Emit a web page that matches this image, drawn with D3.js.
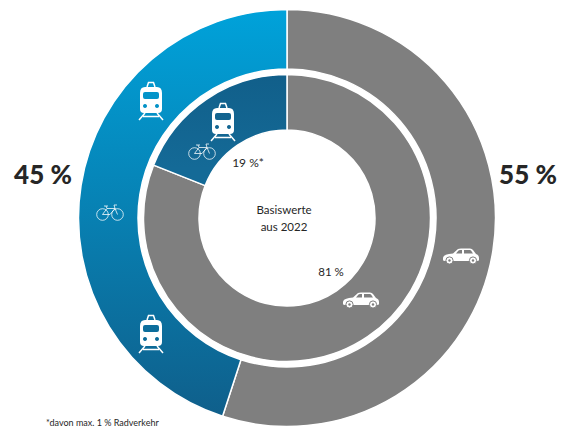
<!DOCTYPE html>
<html lang="de">

<head>
  <meta charset="UTF-8" />
  <title>Basiswerte aus 2022</title>
  <script src="https://d3js.org/d3.v7.min.js"></script>
  <style>
    body {
      margin: 0;
      background: #fff;
    }

    svg {
      display: block;
      font-family: 'Lato', sans-serif;
    }
  </style>
</head>

<body>
  <svg id="chart" width="567" height="431" xmlns="http://www.w3.org/2000/svg"></svg>

  <script>
    const categories = ["Auto", "Umweltverbund"];
    const outerValues = [55, 45];
    const innerValues = [81, 19];
    const outerLabels = ["55 %", "45 %"];
    const innerLabels = ["81 %", "19 %*"];
    const centerLabels = ["Basiswerte", "aus 2022"];
    const footnote = "*davon max. 1 % Radverkehr";

    const cx = 287;
    const cy = 218;

    const svg = d3.select("#chart");
    const defs = svg.append("defs");

    // blue parts fade towards the bottom
    function addGradient(id, y1, y2, c1, c2) {
      const g = defs.append("linearGradient")
        .attr("id", id)
        .attr("gradientUnits", "userSpaceOnUse")
        .attr("x1", 0).attr("x2", 0)
        .attr("y1", y1).attr("y2", y2);
      g.append("stop").attr("offset", "0%").attr("stop-color", c1);
      g.append("stop").attr("offset", "100%").attr("stop-color", c2);
    }
    addGradient("blue-outer", -208, 198, "#00a2da", "#0f5f8b");
    addGradient("blue-inner", -143, -50, "#115f8a", "#146a97");

    const pie = d3.pie().sort(null).value(d => d);
    const color = d3.scaleOrdinal().domain([0, 1]);

    const root = svg.append("g").attr("transform", `translate(${cx},${cy})`);

    function drawRing(values, inner, outer, blueId) {
      const arc = d3.arc().innerRadius(inner).outerRadius(outer);
      color.range(["#7f7f7f", `url(#${blueId})`]);
      root.append("g")
        .selectAll("path")
        .data(pie(values))
        .join("path")
        .attr("d", arc)
        .attr("fill", (d, i) => color(i))
        .attr("stroke", "#fff")
        .attr("stroke-width", 1.5);
    }

    drawRing(outerValues, 149, 208.5, "blue-outer");
    drawRing(innerValues, 88, 143.5, "blue-inner");

    // icons, drawn around their own centre
    function drawTrain(x, y) {
      const g = svg.append("g").attr("transform", `translate(${x},${y})`).attr("fill", "#fff");
      g.append("path")
        .attr("fill-rule", "evenodd")
        .attr("d", `M-6,-14 H6 Q11,-14 11,-8 V8 Q11,12 7,12 H-7 Q-11,12 -11,8 V-8 Q-11,-14 -6,-14 Z
          M-6,-9 Q-8,-9 -8,-7 V-4 Q-8,-2 -6,-2 H6 Q8,-2 8,-4 V-7 Q8,-9 6,-9 Z
          M-6,3 a2,2 0 1,0 0.01,0 Z M6,3 a2,2 0 1,0 0.01,0 Z`);
      g.append("path")
        .attr("fill", "none")
        .attr("stroke", "#fff")
        .attr("stroke-width", 1.5)
        .attr("d", `M-6,12 L-12,19 M6,12 L12,19 M-8,15.5 H8 M-4,-14 L-2.5,-18.5 H2.5 L4,-14`);
    }

    function drawBike(x, y) {
      const g = svg.append("g").attr("transform", `translate(${x},${y})`)
        .attr("fill", "none").attr("stroke", "#fff").attr("stroke-width", 0.9).attr("stroke-opacity", 0.85);
      g.append("circle").attr("cx", -7.5).attr("cy", 2.5).attr("r", 5.8);
      g.append("circle").attr("cx", 7.5).attr("cy", 2.5).attr("r", 5.8);
      g.append("path")
        .attr("d", "M-7.5,2.5 L-3,-3.5 H5 L0,2.5 H-7.5 M-3,-3.5 L-4,-6 M-6,-6 H-2 M5,-3.5 L7.5,2.5 M5,-3.5 L4,-7 H7");
    }

    function drawCar(x, y) {
      const g = svg.append("g").attr("transform", `translate(${x},${y})`);
      g.append("path")
        .attr("fill", "#fff")
        .attr("fill-rule", "evenodd")
        .attr("d", `M-18,2 Q-18,-1 -12,-2 L-8,-2.5 L-3,-7 Q-2,-7.5 0,-7.5 H9 Q11,-7.5 12,-6 L15,-2 Q18,-1 18,2 V4 Q18,5 16,5 H-16 Q-18,5 -18,4 Z
          M-5,-2.5 H1 V-6 H-1 Q-2,-6 -2.5,-5.5 Z M3,-2.5 H12 L10,-5.5 Q9.5,-6 9,-6 H3 Z`);
      [-11.5, 12].forEach(wx => {
        g.append("circle").attr("cx", wx).attr("cy", 4.5).attr("r", 3.6)
          .attr("fill", "#fff").attr("stroke", "#7f7f7f").attr("stroke-width", 1);
        g.append("circle").attr("cx", wx).attr("cy", 4.5).attr("r", 1.2).attr("fill", "#7f7f7f");
      });
    }

    drawTrain(151, 101);
    drawTrain(223, 122);
    drawTrain(151, 334);
    drawBike(110, 212);
    drawBike(202, 151);
    drawCar(461, 256);
    drawCar(361, 300);

    // texts
    function addText(x, y, str, size, weight, anchor) {
      svg.append("text")
        .attr("x", x)
        .attr("y", y)
        .attr("text-anchor", anchor || "middle")
        .attr("font-size", size)
        .attr("font-weight", weight || 400)
        .attr("fill", "#262626")
        .text(str);
    }

    addText(528, 184, outerLabels[0], 26, 900);
    addText(43, 184, outerLabels[1], 26, 900);
    addText(331, 276, innerLabels[0], 11.5);
    addText(248, 167, innerLabels[1], 12);
    addText(284, 214, centerLabels[0], 11.5);
    addText(284, 231, centerLabels[1], 11.5);
    addText(46, 426, footnote, 9, 400, "start");
  </script>
</body>

</html>
